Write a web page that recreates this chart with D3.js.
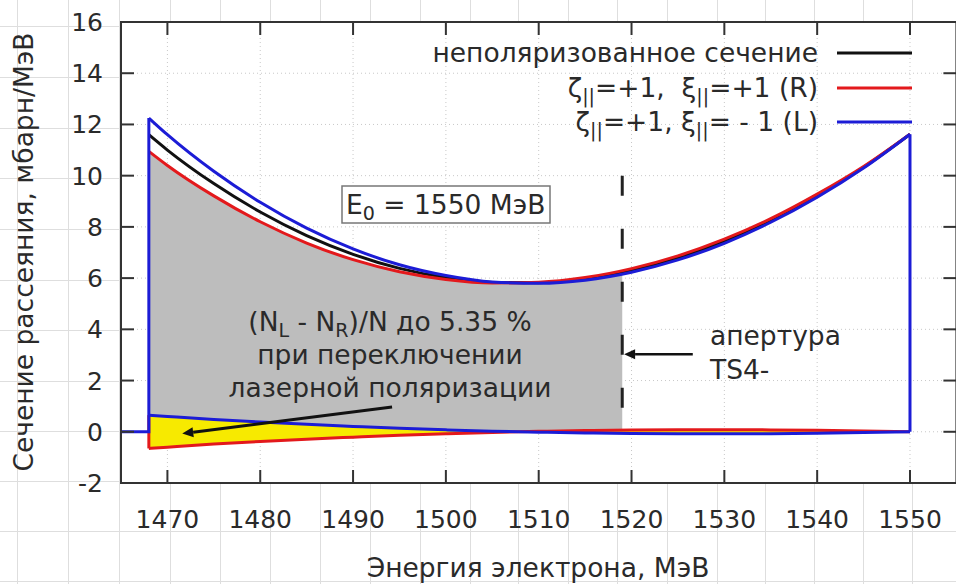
<!DOCTYPE html>
<html><head><meta charset="utf-8">
<script src="https://cdn.jsdelivr.net/npm/d3@7"></script>
<style>html,body{margin:0;padding:0;background:#fff;}svg{display:block;}</style>
</head><body>
<svg id="chart" width="956" height="584"></svg>
<script>
// ---- data ----
const energy   = [1468,1470,1475,1480,1485,1490,1495,1500,1505,1510,1515,1520,1525,1530,1535,1540,1545,1550];
const unpol    = [11.60,11.00,9.69,8.58,7.66,6.93,6.38,6.02,5.83,5.82,5.97,6.30,6.79,7.44,8.25,9.22,10.33,11.62];
const sigmaR   = [10.95,10.40,9.21,8.20,7.37,6.72,6.25,5.95,5.81,5.84,6.02,6.37,6.87,7.52,8.32,9.28,10.36,11.62];
const sigmaL   = [12.25,11.60,10.17,8.96,7.95,7.14,6.52,6.10,5.85,5.80,5.92,6.23,6.71,7.36,8.18,9.16,10.30,11.62];
const diffL    = [0.65,0.60,0.48,0.38,0.29,0.21,0.135,0.075,0.024,-0.016,-0.047,-0.067,-0.079,-0.081,-0.074,-0.058,-0.033,0.0];
const diffR    = [-0.65,-0.60,-0.48,-0.38,-0.29,-0.21,-0.135,-0.075,-0.024,0.016,0.047,0.067,0.079,0.081,0.074,0.058,0.033,0.0];
const xTicks   = [1470,1480,1490,1500,1510,1520,1530,1540,1550];
const yTicks   = [-2,0,2,4,6,8,10,12,14,16];
const apertureE = 1519;
const apertureTop = 10;
const E0label = "1550 МэВ";
const legendLabels = ["неполяризованное сечение","ζ||=+1,  ξ||=+1 (R)","ζ||=+1, ξ||= - 1 (L)"];

// ---- layout ----
const svg = d3.select("#chart");
const FONT = "DejaVu Sans, sans-serif";
const TXT = "#2a2a2a";
const FS = 26.5;
const RED = "#e3191c", BLUE = "#1c1cd6", BLACK = "#111";
const x = d3.scaleLinear().domain([1465,1555]).range([121,956.4]);
const y = d3.scaleLinear().domain([-2,16]).range([483,22]);

// paper grid in the background
const paperX = [17,68,119,170,220,270,320,370,420,470,518,568,617,667,717,765,814,863,912];
const paperY = [26,77,128,178,229,280,330,381,431,481,531,581];
const pg = svg.append("g").attr("stroke","#dedede").attr("stroke-width",1);
paperX.forEach(px=>pg.append("line").attr("x1",px+0.5).attr("x2",px+0.5).attr("y1",0).attr("y2",584));
paperY.forEach(py=>pg.append("line").attr("y1",py+0.5).attr("y2",py+0.5).attr("x1",0).attr("x2",956));

// plot background
svg.append("rect").attr("x",x(1465)).attr("y",y(16)).attr("width",x(1555)-x(1465)).attr("height",y(-2)-y(16)).attr("fill","#fff");

// dotted gnuplot grid
const gg = svg.append("g").attr("stroke","#c8c8c8").attr("stroke-width",1).attr("stroke-dasharray","1,3");
xTicks.forEach(t=>gg.append("line").attr("x1",x(t)).attr("x2",x(t)).attr("y1",y(16)).attr("y2",y(-2)));
yTicks.forEach(t=>gg.append("line").attr("y1",y(t)).attr("y2",y(t)).attr("x1",x(1465)).attr("x2",x(1555)));

const pts = (arr)=>energy.map((e,i)=>[e,arr[i]]);
const smooth = d3.line().x(d=>x(d[0])).y(d=>y(d[1])).curve(d3.curveMonotoneX);
const straight = d3.line().x(d=>x(d[0])).y(d=>y(d[1]));

// clip for grey aperture region
svg.append("clipPath").attr("id","ap").append("rect")
  .attr("x",x(1468)).attr("y",0).attr("width",x(apertureE)-x(1468)).attr("height",584);

const rows = energy.map((e,i)=>({e, top:sigmaR[i], lo:diffL[i], hi:diffR[i]}));
svg.append("path").datum(rows).attr("clip-path","url(#ap)")
  .attr("d", d3.area().x(d=>x(d.e)).y0(d=>y(d.lo)).y1(d=>y(d.top)).curve(d3.curveMonotoneX))
  .attr("fill","#bdbdbd");
svg.append("path").datum(rows)
  .attr("d", d3.area().x(d=>x(d.e)).y0(d=>y(d.hi)).y1(d=>y(d.lo)).curve(d3.curveMonotoneX))
  .attr("fill","#f7ea00");

// curves
const lw = 3;
svg.append("path").attr("d",smooth(pts(unpol))).attr("fill","none").attr("stroke",BLACK).attr("stroke-width",lw);
svg.append("path").attr("d",smooth(pts(sigmaR))).attr("fill","none").attr("stroke",RED).attr("stroke-width",lw);
svg.append("path").attr("d",straight([[1468,diffL[0]],[1468,diffR[0]]])).attr("fill","none").attr("stroke",RED).attr("stroke-width",lw);
svg.append("path").attr("d",smooth(pts(diffR))).attr("fill","none").attr("stroke",RED).attr("stroke-width",lw);
svg.append("path").attr("d",straight([[1465,0],[1468,0],[1468,sigmaL[0]]])).attr("fill","none").attr("stroke",BLUE).attr("stroke-width",lw);
svg.append("path").attr("d",smooth(pts(sigmaL))).attr("fill","none").attr("stroke",BLUE).attr("stroke-width",lw);
svg.append("path").attr("d",straight([[1550,sigmaL[sigmaL.length-1]],[1550,0]])).attr("fill","none").attr("stroke",BLUE).attr("stroke-width",lw);
svg.append("path").attr("d",smooth(pts(diffL))).attr("fill","none").attr("stroke",BLUE).attr("stroke-width",lw);

// aperture dashed line
svg.append("line").attr("x1",x(apertureE)).attr("x2",x(apertureE)).attr("y1",y(apertureTop)).attr("y2",y(0))
  .attr("stroke","#222").attr("stroke-width",3).attr("stroke-dasharray","20,33");

// arrows
function arrow(x1,y1,x2,y2,w){
  const X1=x(x1),Y1=y(y1),X2=x(x2),Y2=y(y2);
  const ang=Math.atan2(Y2-Y1,X2-X1), L=11, H=5;
  const bx=X2-L*Math.cos(ang), by=Y2-L*Math.sin(ang);
  svg.append("line").attr("x1",X1).attr("y1",Y1).attr("x2",bx).attr("y2",by).attr("stroke","#111").attr("stroke-width",w);
  svg.append("path").attr("d",`M${X2},${Y2}L${bx-H*Math.sin(ang)},${by+H*Math.cos(ang)}L${bx+H*Math.sin(ang)},${by-H*Math.cos(ang)}Z`).attr("fill","#111");
}
arrow(1526.6,3.03,1519.2,3.03,2.5);
arrow(1494.2,0.97,1471.6,-0.07,3);

// frame & ticks
svg.append("rect").attr("x",x(1465)).attr("y",y(16)).attr("width",x(1555)-x(1465)).attr("height",y(-2)-y(16))
  .attr("fill","none").attr("stroke","#333").attr("stroke-width",2);
const tk = svg.append("g").attr("stroke","#333").attr("stroke-width",2);
xTicks.forEach(t=>{
  tk.append("line").attr("x1",x(t)).attr("x2",x(t)).attr("y1",y(-2)).attr("y2",y(-2)-13);
  tk.append("line").attr("x1",x(t)).attr("x2",x(t)).attr("y1",y(16)).attr("y2",y(16)+13);
});
yTicks.forEach(t=>{
  tk.append("line").attr("y1",y(t)).attr("y2",y(t)).attr("x1",x(1465)).attr("x2",x(1465)+13);
  tk.append("line").attr("y1",y(t)).attr("y2",y(t)).attr("x1",x(1555)).attr("x2",x(1555)-13);
});

const T = (xx,yy,anchor,fs)=>svg.append("text").attr("x",xx).attr("y",yy).attr("text-anchor",anchor||"start")
  .attr("font-family",FONT).attr("font-size",fs||FS).attr("fill",TXT).attr("xml:space","preserve").style("white-space","pre");

xTicks.forEach(t=>T(x(t),528,"middle",25).text(t));
yTicks.forEach(t=>T(103,y(t)+9,"end",25).text(t));

T(538,577,"middle").text("Энергия электрона, МэВ");
svg.append("text").attr("transform","translate(33,252) rotate(-90)").attr("text-anchor","middle")
  .attr("font-family",FONT).attr("font-size",FS).attr("fill",TXT).text("Сечение рассеяния, мбарн/МэВ");

// subscript helper
function rich(t, parts){
  parts.forEach(p=>{
    if(p.sub) t.append("tspan").attr("font-size",FS*0.72).attr("baseline-shift","-30%").text(p.sub);
    else t.append("tspan").text(p.t);
  });
  return t;
}

// legend
const legY = [53,88,122];
T(818,legY[0]+9,"end").text(legendLabels[0]);
rich(T(818,legY[1]+9,"end"),[{t:"ζ"},{sub:"||"},{t:"=+1,\u00a0 ξ"},{sub:"||"},{t:"=+1 (R)"}]);
rich(T(818,legY[2]+9,"end"),[{t:"ζ"},{sub:"||"},{t:"=+1, ξ"},{sub:"||"},{t:"= - 1 (L)"}]);
[BLACK,RED,BLUE].forEach((c,i)=>svg.append("line").attr("x1",837).attr("x2",912).attr("y1",legY[i]).attr("y2",legY[i])
  .attr("stroke",c).attr("stroke-width",lw));

// E0 box
svg.append("rect").attr("x",342).attr("y",186).attr("width",208).attr("height",37).attr("fill","#fff").attr("stroke","#777").attr("stroke-width",1.5);
rich(T(346,214,"start"),[{t:"E"},{sub:"0"},{t:" = "+E0label}]);

// annotations
rich(T(390,331,"middle"),[{t:"(N"},{sub:"L"},{t:" - N"},{sub:"R"},{t:")/N до 5.35 %"}]);
T(390,364,"middle").text("при переключении");
T(390,397,"middle").text("лазерной поляризации");
T(710,345,"start").text("апертура");
T(710,379,"start").text("TS4-");
</script>
</body></html>
